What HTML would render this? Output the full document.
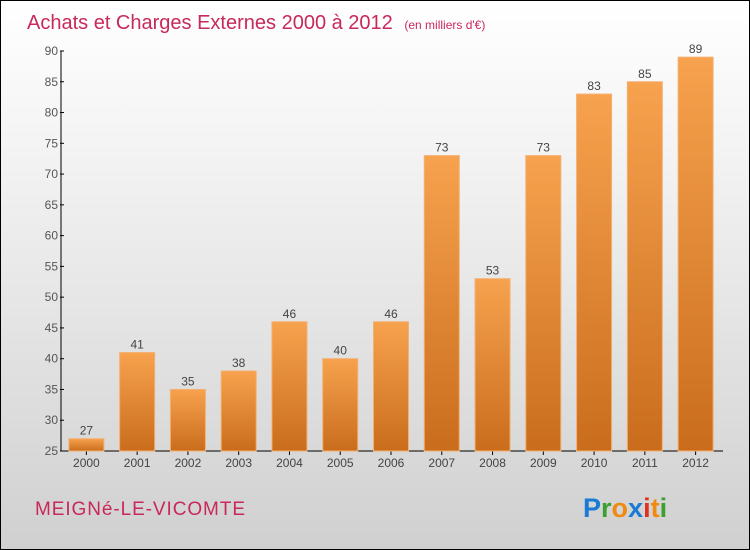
<!DOCTYPE html>
<html><head><meta charset="utf-8"><style>
body{margin:0;}
#wrap{position:relative;width:748px;height:548px;border:1px solid #000;background:linear-gradient(#ffffff,#f2f2f2 30%,#d0d0d0);font-family:"Liberation Sans",sans-serif;overflow:hidden}
svg{position:absolute;left:0;top:0}
</style></head><body>
<div id="wrap">
<svg id="chart" width="748" height="548">
<defs>
<linearGradient id="bg" x1="0" y1="0" x2="0" y2="1">
<stop offset="0" stop-color="#f7a24e"/><stop offset="1" stop-color="#c96d1c"/>
</linearGradient>
</defs>
<text x="26" y="28" font-size="20" fill="#c8285a">Achats et Charges Externes 2000 à 2012 <tspan font-size="12" dx="6">(en milliers d'€)</tspan></text>
<text x="34" y="514" font-size="19" fill="#c8285a" textLength="210">MEIGNé-LE-VICOMTE</text>
<g font-size="27" font-weight="bold" font-family="'Liberation Sans',sans-serif">
<text x="582" y="516"><tspan fill="#1a7ad4">P</tspan><tspan fill="#3aa030">r</tspan><tspan fill="#f08a10">o</tspan><tspan fill="#1a7ad4">x</tspan><tspan fill="#e03020">i</tspan><tspan fill="#f08a10">t</tspan><tspan fill="#3aa030">i</tspan></text>
</g>
<g id="axes"></g>
<g id="bars"></g>
</svg>
</div>
<script>
const categories=["2000","2001","2002","2003","2004","2005","2006","2007","2008","2009","2010","2011","2012"];
const values=[27,41,35,38,46,40,46,73,53,73,83,85,89];
const yTicks=[25,30,35,40,45,50,55,60,65,70,75,80,85,90];
const NS="http://www.w3.org/2000/svg";
const x0=60,x1=720,yMin=25,yMax=90,py0=450,py1=50;
const band=(x1-x0)/categories.length;
function xs(i){return x0+band*i+band/2;}
function ys(v){return py0-(v-yMin)/(yMax-yMin)*(py0-py1);}
function mk(t,a,p){const e=document.createElementNS(NS,t);for(const k in a)e.setAttribute(k,a[k]);p.appendChild(e);return e;}
const ax=document.getElementById('axes'),bg=document.getElementById('bars');
const yl=mk('line',{x1:x0,y1:py1,x2:x0,y2:py0,stroke:'#000','stroke-width':1},ax);


const xl=mk('line',{x1:x0,y1:py0,x2:x1+2,y2:py0,stroke:'#000','stroke-width':1},ax);


yTicks.forEach(v=>{const y=ys(v);
mk('line',{x1:x0-1,y1:y,x2:x0+3,y2:y,stroke:'#000'},ax);
const t=mk('text',{x:x0-3,y:y+4,'font-size':12,fill:'#555','text-anchor':'end'},ax);t.textContent=v;

});
categories.forEach((c,i)=>{const cx=xs(i),w=35,y=ys(values[i]);
const r=mk('rect',{x:cx-w/2,y:y,width:w,height:py0-y,fill:'url(#bg)',stroke:'#f4b070','stroke-width':1},bg);


const v=mk('text',{x:cx,y:y-4,'font-size':12,fill:'#444','text-anchor':'middle'},bg);v.textContent=values[i];


mk('line',{x1:cx,y1:py0,x2:cx,y2:py0+4,stroke:'#000'},ax);
const l=mk('text',{x:cx,y:py0+16,'font-size':12,fill:'#444','text-anchor':'middle'},ax);l.textContent=c;

});
</script>
</body></html>
